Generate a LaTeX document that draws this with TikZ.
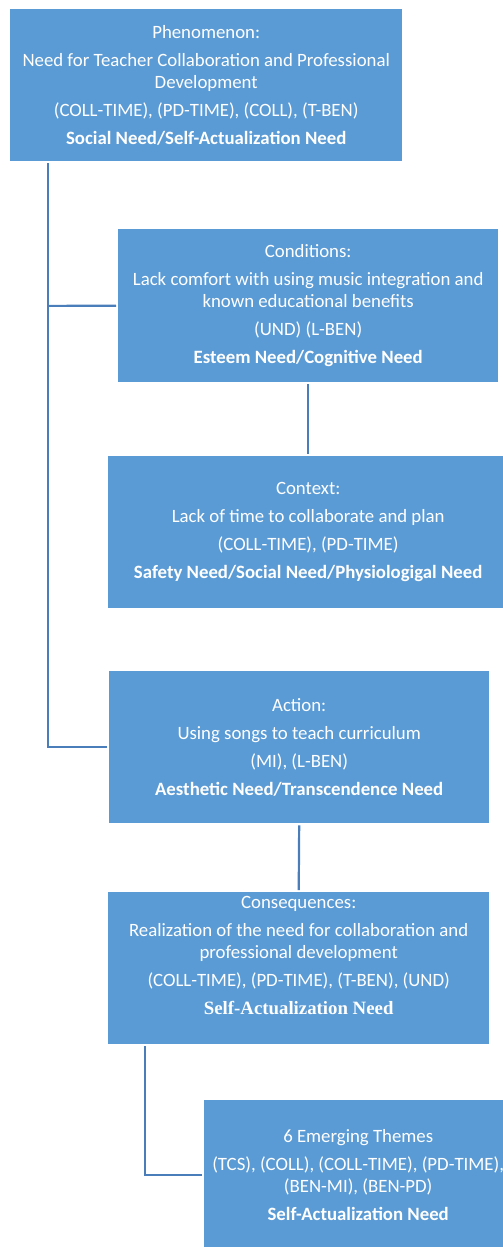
\documentclass[tikz,border=0pt]{standalone}
\usepackage{fontspec}
\setmainfont{Carlito}
\newfontfamily\timesbold{Liberation Serif}
\definecolor{boxblue}{HTML}{5B9BD5}
\definecolor{lineblue}{HTML}{4A7EBB}
\begin{document}
\begin{tikzpicture}[x=1pt,y=-1pt,
  box/.style={draw=none,fill=boxblue,text=white,anchor=north west,inner sep=0pt,
    align=center,font=\fontsize{18.8}{21.5}\selectfont},
  conn/.style={draw=lineblue,line width=2.2pt,shorten <=2pt,shorten >=2pt}]
\useasboundingbox (0,0) rectangle (503,1247);
\clip (0,0) rectangle (503,1247);
\node[box,minimum width=392pt,minimum height=152pt] (b1) at (10,9)
  {Phenomenon:\\[6.5pt]
   Need for Teacher Collaboration and Professional\\
   Development\\[6.5pt]
   (COLL-TIME), (PD-TIME), (COLL), (T-BEN)\\[6.5pt]
   \textbf{Social Need/Self-Actualization Need}};
\node[box,minimum width=380pt,minimum height=153pt] (b2) at (118,229)
  {Conditions:\\[6.5pt]
   Lack comfort with using music integration and\\
   known educational benefits\\[6.5pt]
   (UND) (L-BEN)\\[6.5pt]
   \textbf{Esteem Need/Cognitive Need}};
\node[box,minimum width=400pt,minimum height=152pt] (b3) at (108,456)
  {Context:\\[6.5pt]
   Lack of time to collaborate and plan\\[6.5pt]
   (COLL-TIME), (PD-TIME)\\[6.5pt]
   \textbf{Safety Need/Social Need/Physiologigal Need}};
\node[box,minimum width=380pt,minimum height=152pt] (b4) at (109,671)
  {Action:\\[6.5pt]
   Using songs to teach curriculum\\[6.5pt]
   (MI), (L-BEN)\\[6.5pt]
   \textbf{Aesthetic Need/Transcendence Need}};
\node[box,minimum width=381pt,minimum height=152pt,text depth=26pt] (b5) at (108,892)
  {Consequences:\\[6.5pt]
   Realization of the need for collaboration and\\
   professional development\\[6.5pt]
   (COLL-TIME), (PD-TIME), (T-BEN), (UND)\\[6.5pt]
   {\timesbold\bfseries Self-Actualization Need}};
\node[box,minimum width=308pt,minimum height=150pt] (b6) at (204,1100)
  {6 Emerging Themes\\[6.5pt]
   (TCS), (COLL), (COLL-TIME), (PD-TIME),\\
   (BEN-MI), (BEN-PD)\\[6.5pt]
   \textbf{Self-Actualization Need}};
\draw[conn] ([xshift=38pt]b1.south west) |- (b4.west);
\draw[conn,shorten <=0pt] ([xshift=38pt,yshift=-144.5pt]b1.south west) -- (b2.west);
\draw[conn] (b2.south) -- (b3.north);
\draw[conn] (b4.south) -- (b5.north);
\draw[conn] ([xshift=37pt]b5.south west) |- (b6.west);
\end{tikzpicture}
\end{document}
